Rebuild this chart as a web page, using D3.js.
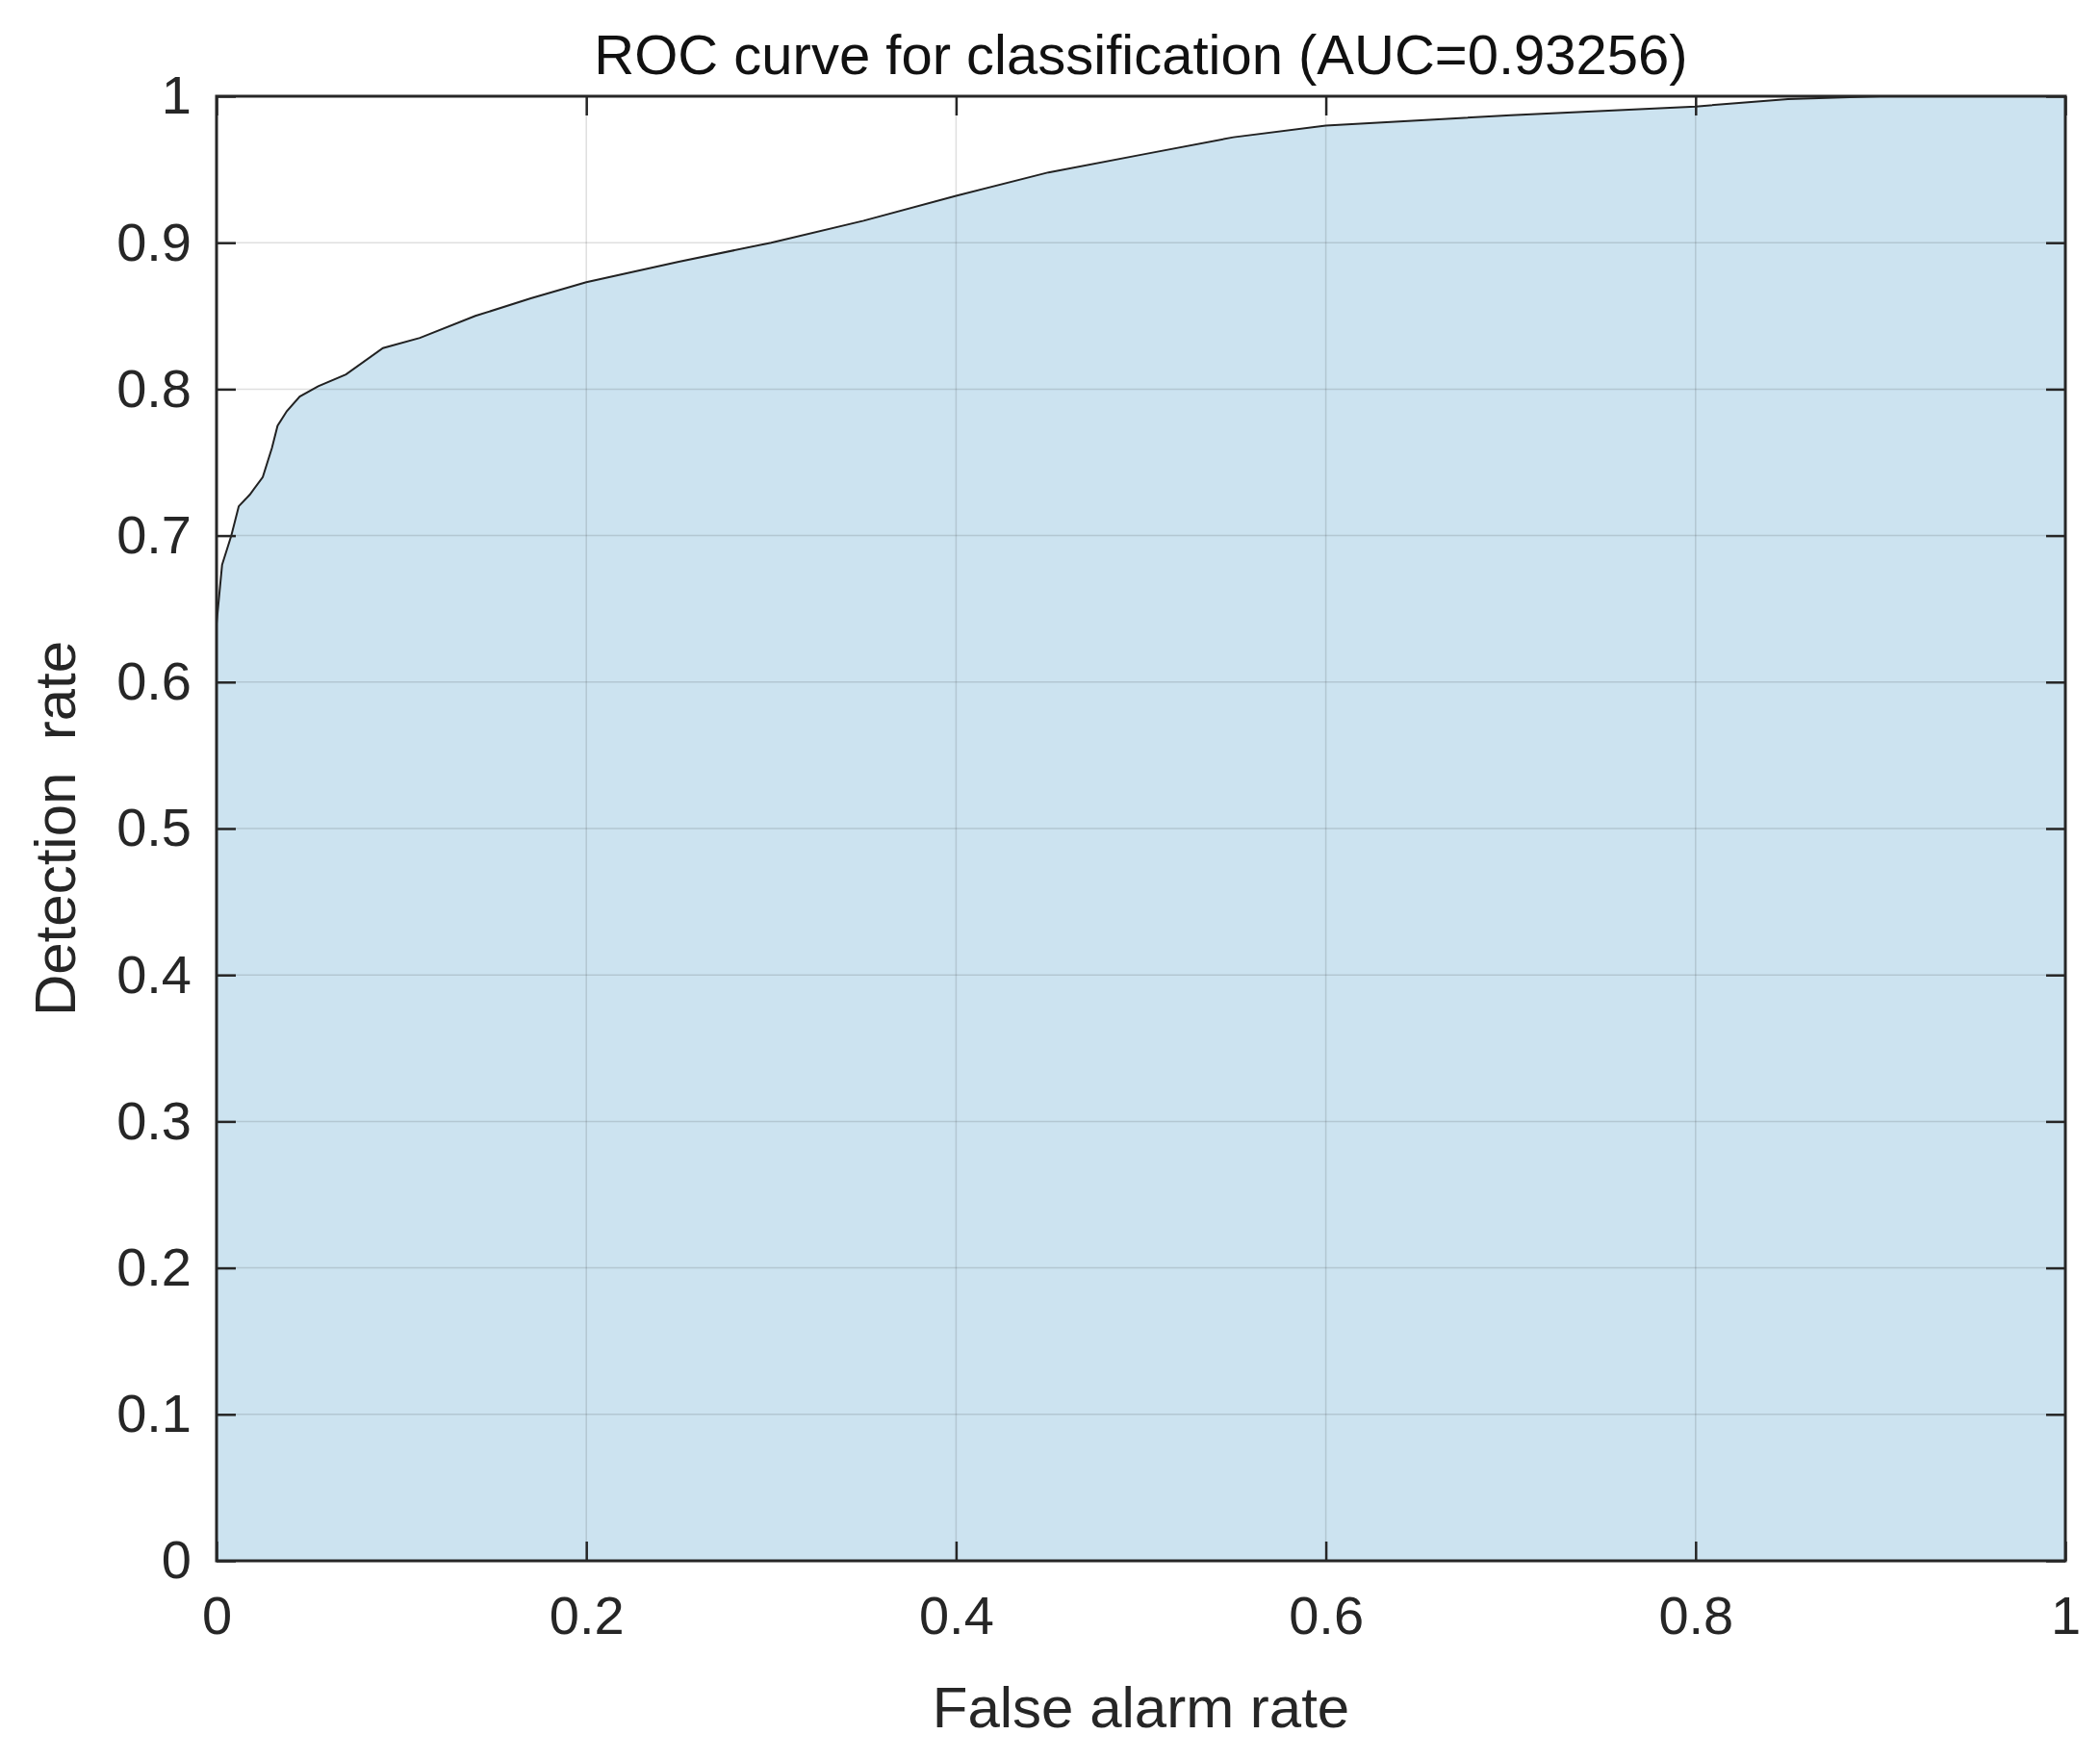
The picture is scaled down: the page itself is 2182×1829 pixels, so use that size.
<!DOCTYPE html>
<html><head><meta charset="utf-8">
<script src="https://cdn.jsdelivr.net/npm/d3@7"></script>
<style>body{margin:0;background:#fff}</style>
</head><body>
<div id="chart"></div>
<script>
var fpr = [0, 0, 0.003, 0.008, 0.012, 0.018, 0.025, 0.03, 0.033, 0.038, 0.045, 0.055, 0.07, 0.09, 0.11, 0.14, 0.17, 0.2, 0.25, 0.3, 0.35, 0.4, 0.45, 0.5, 0.55, 0.6, 0.7, 0.8, 0.85, 0.9, 1];
var tpr = [0, 0.64, 0.68, 0.70, 0.72, 0.728, 0.74, 0.76, 0.775, 0.785, 0.795, 0.802, 0.81, 0.828, 0.835, 0.85, 0.862, 0.873, 0.887, 0.9, 0.915, 0.932, 0.948, 0.96, 0.972, 0.98, 0.987, 0.993, 0.998, 1, 1];
var ticks = [0, 0.1, 0.2, 0.3, 0.4, 0.5, 0.6, 0.7, 0.8, 0.9, 1];
var xticks = [0, 0.2, 0.4, 0.6, 0.8, 1];

var svgWidth = 2182, svgHeight = 1829;
var margin = {top: 100, right: 36, bottom: 207, left: 225};
var width = svgWidth - margin.left - margin.right;
var height = svgHeight - margin.top - margin.bottom;
var font = "Liberation Sans, Arial, sans-serif";

var svg = d3.select("#chart").append("svg")
    .attr("width", svgWidth).attr("height", svgHeight);
var g = svg.append("g").attr("transform", `translate(${margin.left},${margin.top})`);

var x = d3.scaleLinear().domain([0, 1]).range([0, width]);
var y = d3.scaleLinear().domain([0, 1]).range([height, 0]);

var pts = fpr.map((d, i) => [d, tpr[i]]);
pts.push([1, 0]);

// filled area under ROC
g.append("path").datum(pts)
    .attr("d", d3.line().x(d => x(d[0])).y(d => y(d[1])))
    .attr("fill", "#cce3f0").attr("stroke", "none");

// grid
g.selectAll(".gx").data(xticks).enter().append("line")
    .attr("x1", d => x(d)).attr("x2", d => x(d)).attr("y1", 0).attr("y2", height)
    .attr("stroke", "#26262b").attr("stroke-opacity", 0.15).attr("stroke-width", 1.5);
g.selectAll(".gy").data(ticks).enter().append("line")
    .attr("y1", d => y(d)).attr("y2", d => y(d)).attr("x1", 0).attr("x2", width)
    .attr("stroke", "#26262b").attr("stroke-opacity", 0.15).attr("stroke-width", 1.5);

// curve outline
g.append("path").datum(fpr.map((d, i) => [d, tpr[i]]))
    .attr("d", d3.line().x(d => x(d[0])).y(d => y(d[1])))
    .attr("fill", "none").attr("stroke", "#222").attr("stroke-width", 2);

// axes with inward ticks
var tl = 20;
var fmt = d => d === 0 || d === 1 ? d : d3.format(".1f")(d);
g.append("g").attr("transform", `translate(0,${height})`)
    .call(d3.axisBottom(x).tickValues(xticks).tickSizeInner(-tl).tickSizeOuter(0).tickPadding(36).tickFormat(fmt));
g.append("g").call(d3.axisTop(x).tickValues(xticks).tickSizeInner(-tl).tickSizeOuter(0).tickFormat(""));
g.append("g")
    .call(d3.axisLeft(y).tickValues(ticks).tickSizeInner(-tl).tickSizeOuter(0).tickPadding(26).tickFormat(fmt));
g.append("g").attr("transform", `translate(${width},0)`)
    .call(d3.axisRight(y).tickValues(ticks).tickSizeInner(-tl).tickSizeOuter(0).tickFormat(""));
g.selectAll(".domain").remove();
g.selectAll(".tick line").attr("stroke", "#262626").attr("stroke-width", 2.5);
g.selectAll(".tick text").attr("font-family", font).attr("font-size", 56).attr("fill", "#262626");

g.append("rect").attr("width", width).attr("height", height)
    .attr("fill", "none").attr("stroke", "#262626").attr("stroke-width", 3);

svg.append("text").attr("x", margin.left + width / 2).attr("y", 77)
    .attr("text-anchor", "middle").attr("font-family", font).attr("font-size", 58).attr("fill", "#111")
    .text("ROC curve for classification (AUC=0.93256)");
svg.append("text").attr("x", margin.left + width / 2).attr("y", 1795)
    .attr("text-anchor", "middle").attr("font-family", font).attr("font-size", 60).attr("fill", "#262626")
    .text("False alarm rate");
svg.append("text").attr("transform", `translate(78,${margin.top + height / 2}) rotate(-90)`)
    .attr("text-anchor", "middle").attr("font-family", font).attr("font-size", 60).attr("fill", "#262626")
    .style("white-space", "pre")
    .text("Detection  rate");
</script>
</body></html>
